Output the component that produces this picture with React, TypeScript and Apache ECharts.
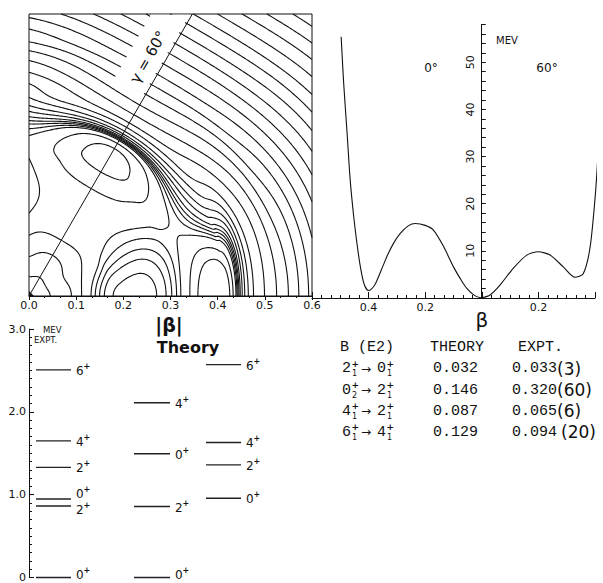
import React, { useEffect, useRef } from "react";
import * as echarts from "echarts";

// ---------------- data ----------------
// 0-degree cut of the potential, beta vs MeV
const CUT0_BETA = [0, 0.025, 0.053, 0.075, 0.1, 0.135, 0.171, 0.2, 0.235, 0.26, 0.288, 0.31, 0.33, 0.35, 0.365, 0.38, 0.4, 0.415, 0.429, 0.441, 0.453, 0.465, 0.476, 0.488, 0.497];
const CUT0_MEV = [0, 0.5, 2.05, 4.0, 6.6, 10.9, 14.4, 15.4, 15.8, 15.3, 13.7, 11.8, 9.5, 6.7, 4.5, 2.6, 1.6, 2.8, 6.6, 11.5, 17.5, 25, 35, 45.5, 55.4];
// 60-degree cut
const CUT60_BETA = [0, 0.029, 0.065, 0.111, 0.159, 0.2, 0.241, 0.288, 0.329, 0.358, 0.382, 0.4, 0.41, 0.416, 0.421];
const CUT60_MEV = [0, 0.64, 2.8, 6.3, 9.1, 9.8, 9.1, 6.6, 4.4, 5.1, 10.5, 21, 30, 38, 50];
const CUT90_BETA = [0, 0.041, 0.076, 0.105, 0.129, 0.158, 0.176, 0.23, 0.293, 0.315, 0.341, 0.356, 0.37, 0.393, 0.423, 0.452, 0.476, 0.501, 0.522, 0.541, 0.568];
const CUT90_MEV = [0, 1.5, 5, 6.5, 8, 9.5, 10.5, 11.3, 10.5, 10.0, 10.5, 11.5, 13, 17, 25, 35, 58, 88, 122, 158, 196];
// outer part of the surface (beyond the plotted cuts), estimated from the outer contour arcs
const OUTER0_BETA = [0.525, 0.55, 0.6, 0.65, 0.7, 0.75, 0.8, 0.9];
const OUTER0_MEV = [88, 122, 210, 325, 470, 660, 885, 1450];
const OUTER60_BETA = [0.45, 0.5, 0.55, 0.6, 0.65, 0.7, 0.8, 0.9];
const OUTER60_MEV = [95, 165, 250, 355, 485, 635, 990, 1400];
const OUTER90_BETA = [0.6, 0.65, 0.7, 0.8, 0.9];
const OUTER90_MEV = [255, 360, 480, 780, 1150];
// contour levels (MeV)
const CONTOUR_LEVELS = [1.5, 5.5, 8, 10.5, 11.5, 12.5, 13.5, 14.8, 17, 20, 25, 35, 58, 88, 122, 158, 196, 240, 290, 345, 405, 470, 540, 615, 700, 790, 885, 990];
const GAMMA_LINE_DEG = 60;

// level scheme (MeV) and spins
const EXPT_E = [0, 0.864, 0.948, 1.33, 1.65, 2.506];
const EXPT_J = [0, 2, 0, 2, 4, 6];
const THEO1_E = [0, 0.857, 1.494, 2.11];
const THEO1_J = [0, 2, 0, 4];
const THEO2_E = [0.956, 1.36, 1.63, 2.57];
const THEO2_J = [0, 2, 4, 6];

// B(E2) table
const BE2_FROM = [["2", "1"], ["0", "2"], ["4", "1"], ["6", "1"]];
const BE2_TO = [["0", "1"], ["2", "1"], ["2", "1"], ["4", "1"]];
const BE2_THEORY = [0.032, 0.146, 0.087, 0.129];
const BE2_EXPT = [0.033, 0.32, 0.065, 0.094];
const BE2_ERR = [3, 60, 6, 20];

// ---------------- helpers ----------------
function monotoneInterp(xs: number[], ys: number[]) {
  const n = xs.length;
  const d: number[] = [];
  const m: number[] = new Array(n).fill(0);
  for (let i = 0; i < n - 1; i++) d.push((ys[i + 1] - ys[i]) / (xs[i + 1] - xs[i]));
  m[0] = d[0];
  m[n - 1] = d[n - 2];
  for (let i = 1; i < n - 1; i++) {
    if (d[i - 1] * d[i] <= 0) m[i] = 0;
    else m[i] = (d[i - 1] + d[i]) / 2;
  }
  for (let i = 0; i < n - 1; i++) {
    if (d[i] === 0) { m[i] = 0; m[i + 1] = 0; continue; }
    const a = m[i] / d[i], b = m[i + 1] / d[i];
    const s = a * a + b * b;
    if (s > 9) { const t = 3 / Math.sqrt(s); m[i] = t * a * d[i]; m[i + 1] = t * b * d[i]; }
  }
  return (x: number) => {
    if (x <= xs[0]) return ys[0] + m[0] * (x - xs[0]);
    if (x >= xs[n - 1]) return ys[n - 1] + m[n - 1] * (x - xs[n - 1]);
    let lo = 0, hi = n - 1;
    while (hi - lo > 1) { const mid = (lo + hi) >> 1; if (xs[mid] <= x) lo = mid; else hi = mid; }
    const h = xs[hi] - xs[lo];
    const t = (x - xs[lo]) / h;
    const t2 = t * t, t3 = t2 * t;
    return (2 * t3 - 3 * t2 + 1) * ys[lo] + (t3 - 2 * t2 + t) * h * m[lo] + (-2 * t3 + 3 * t2) * ys[hi] + (t3 - t2) * h * m[hi];
  };
}

function buildContours(): number[][][] {
  const V0 = monotoneInterp([...CUT0_BETA, ...OUTER0_BETA], [...CUT0_MEV, ...OUTER0_MEV]);
  const V60 = monotoneInterp([...CUT60_BETA, ...OUTER60_BETA], [...CUT60_MEV, ...OUTER60_MEV]);
  const V90 = monotoneInterp([...CUT90_BETA, ...OUTER90_BETA], [...CUT90_MEV, ...OUTER90_MEV]);
  const N = 220;
  const h = 0.6 / N;
  const F: Float64Array[] = [];
  for (let j = 0; j <= N; j++) {
    const row = new Float64Array(N + 1);
    for (let i = 0; i <= N; i++) {
      const x = i * h, y = j * h;
      const b = Math.hypot(x, y);
      const u = Math.cos(3 * Math.atan2(y, x));
      const v0 = V0(b), v6 = V60(b), v9 = V90(b);
      // quadratic in cos(3 gamma) through the three profiles
      row[i] = v9 + ((v0 - v6) / 2) * u + ((v0 + v6) / 2 - v9) * u * u;
    }
    F.push(row);
  }
  const out: number[][][] = [];
  for (const L of CONTOUR_LEVELS) {
    const pts = new Map<string, number[]>();
    const segs: string[][] = [];
    const edge = (kind: string, i: number, j: number) => {
      const key = kind + i + "_" + j;
      if (!pts.has(key)) {
        let f1, f2, x1, y1, x2, y2;
        if (kind === "h") { f1 = F[j][i]; f2 = F[j][i + 1]; x1 = i * h; y1 = j * h; x2 = (i + 1) * h; y2 = y1; }
        else { f1 = F[j][i]; f2 = F[j + 1][i]; x1 = i * h; y1 = j * h; x2 = x1; y2 = (j + 1) * h; }
        const t = (L - f1) / (f2 - f1);
        pts.set(key, [x1 + t * (x2 - x1), y1 + t * (y2 - y1)]);
      }
      return key;
    };
    for (let j = 0; j < N; j++) {
      for (let i = 0; i < N; i++) {
        const a = F[j][i], b = F[j][i + 1], c = F[j + 1][i + 1], d = F[j + 1][i];
        const code = (a > L ? 1 : 0) | (b > L ? 2 : 0) | (c > L ? 4 : 0) | (d > L ? 8 : 0);
        if (code === 0 || code === 15) continue;
        const B = () => edge("h", i, j), T = () => edge("h", i, j + 1), Lf = () => edge("v", i, j), R = () => edge("v", i + 1, j);
        const mid = (a + b + c + d) / 4;
        switch (code) {
          case 1: case 14: segs.push([B(), Lf()]); break;
          case 2: case 13: segs.push([B(), R()]); break;
          case 3: case 12: segs.push([Lf(), R()]); break;
          case 4: case 11: segs.push([R(), T()]); break;
          case 6: case 9: segs.push([B(), T()]); break;
          case 7: case 8: segs.push([Lf(), T()]); break;
          case 5:
            if (mid > L) { segs.push([B(), R()]); segs.push([Lf(), T()]); }
            else { segs.push([B(), Lf()]); segs.push([R(), T()]); }
            break;
          case 10:
            if (mid > L) { segs.push([B(), Lf()]); segs.push([R(), T()]); }
            else { segs.push([B(), R()]); segs.push([Lf(), T()]); }
            break;
        }
      }
    }
    const adj = new Map<string, number[]>();
    segs.forEach((s, k) => {
      for (const key of s) { if (!adj.has(key)) adj.set(key, []); adj.get(key)!.push(k); }
    });
    const used = new Uint8Array(segs.length);
    for (let s0 = 0; s0 < segs.length; s0++) {
      if (used[s0]) continue;
      used[s0] = 1;
      const chain = [segs[s0][0], segs[s0][1]];
      for (const dir of [1, -1]) {
        let cur = dir === 1 ? segs[s0][1] : segs[s0][0];
        while (true) {
          const nxt = (adj.get(cur) || []).find((k) => !used[k]);
          if (nxt === undefined) break;
          used[nxt] = 1;
          const [p, q] = segs[nxt];
          cur = p === cur ? q : p;
          if (dir === 1) chain.push(cur); else chain.unshift(cur);
        }
      }
      out.push(chain.map((k) => pts.get(k)!));
    }
  }
  return out;
}

// ---------------- layout ----------------
const W = 603, H = 583;
const C_LEFT = 29, C_TOP = 14, C_SIZE = 283, C_BOTTOM = 296;
const P_LEFT = 312, P_TOP = 24.5, P_W = 283, P_H = 273.5;
const P_YAXIS_SHIFT = 169.7;
const LV_LEFT = 29, LV_TOP = 329, LV_H = 251, LV_W = 230;
const COLUMN_X = [[7, 42], [105, 141], [177, 212]];
const FONT = "DejaVu Sans";
const MONO = "Liberation Mono";

export default function App() {
  const ref = useRef<HTMLDivElement>(null);
  useEffect(() => {
    if (!ref.current) return;
    const chart = echarts.init(ref.current, null, { renderer: "svg" });
    const contours = buildContours();

    const gRad = (GAMMA_LINE_DEG * Math.PI) / 180;
    const gammaEnd = [0.6 / Math.tan(gRad), 0.6];

    // label gap geometry (px)
    const s = C_SIZE / 0.6;
    const dx = Math.cos(gRad), dy = -Math.sin(gRad);
    const nx = -Math.sin(gRad), ny = -Math.cos(gRad);
    const along = (b: number, off: number) => [C_LEFT + s * b * dx + off * nx, C_BOTTOM + s * b * dy + off * ny];
    const atTop = (off: number) => {
      const y0 = C_BOTTOM + off * ny;
      const t = (y0 - (C_TOP + 0.7)) / -dy;
      return [C_LEFT + off * nx + t * dx, C_TOP + 0.7];
    };
    const gapPoly = [along(0.492, 1.6), atTop(1.6), atTop(35), along(0.492, 35)];
    const labelPos = along(0.565, 16);

    const levelData: number[][] = [];
    const cols = [[EXPT_E, EXPT_J], [THEO1_E, THEO1_J], [THEO2_E, THEO2_J]];
    cols.forEach(([es, js], c) => es.forEach((e, k) => levelData.push([c, e, js[k], k])));
    // label nudges for crowded / edge labels (px)
    const nudgeFor = (c: number, e: number, k: number) => {
      if (e === 0) return -4;
      if (c === 0 && k === 2) return -6;
      if (c === 0 && k === 1) return 3;
      return 0;
    };

    const txt = (x: number, y: number, text: string, size: number, extra: any = {}) => ({
      type: "text", x, y, z: 20,
      style: { text, fontSize: size, fontFamily: FONT, fill: "#111", align: "left", verticalAlign: "middle", ...extra },
    });

    const graphic: any[] = [
      { type: "polygon", z: 10, shape: { points: gapPoly }, style: { fill: "#fff", stroke: null } },
      {
        type: "text", x: labelPos[0], y: labelPos[1], rotation: gRad, z: 20,
        style: { text: "γ = 60°", fontSize: 15, fontFamily: FONT, fill: "#111", align: "center", verticalAlign: "middle" },
      },
      { type: "polygon", z: 20, shape: { points: [[C_LEFT, C_BOTTOM], [C_LEFT + 5, C_BOTTOM], [C_LEFT, C_BOTTOM - 5]] }, style: { fill: "#111" } },
      txt(496, 40, "MEV", 10),
      txt(431, 68, "0°", 12, { align: "center" }),
      txt(547, 68, "60°", 12, { align: "center" }),
      txt(169, 325, "|β|", 19, { align: "center", fontWeight: "bold" }),
      txt(188, 347, "Theory", 16, { align: "center", fontWeight: "bold" }),
      txt(43, 329.5, "MEV", 8.5),
      txt(34, 339.5, "EXPT.", 8.5),
      txt(340, 347, "B (E2)", 15, { fontFamily: MONO }),
      txt(430, 347, "THEORY", 15, { fontFamily: MONO }),
      txt(518, 347, "EXPT.", 15, { fontFamily: MONO }),
    ];
    const rowsY = [368.5, 390, 411, 432];
    BE2_FROM.forEach((fr, r) => {
      const y = rowsY[r];
      const to = BE2_TO[r];
      graphic.push(txt(342, y, fr[0], 15, { fontFamily: MONO }));
      graphic.push(txt(351.5, y - 5, "+", 9, { fontWeight: "bold" }));
      graphic.push(txt(352, y + 5, fr[1], 8));
      graphic.push(txt(361, y, "→", 12));
      graphic.push(txt(377, y, to[0], 15, { fontFamily: MONO }));
      graphic.push(txt(386.5, y - 5, "+", 9, { fontWeight: "bold" }));
      graphic.push(txt(387, y + 5, to[1], 8));
      graphic.push(txt(433, y, BE2_THEORY[r].toFixed(3), 15, { fontFamily: MONO }));
      graphic.push(
        txt(512, y, `{v|${BE2_EXPT[r].toFixed(3)}}{e|(${BE2_ERR[r]})}`, 15, {
          rich: {
            v: { fontFamily: MONO, fontSize: 15, fill: "#111" },
            e: { fontFamily: FONT, fontSize: 17, fill: "#111", padding: [0, 0, 0, r === 3 ? 4 : 0] },
          },
        })
      );
    });

    const axisText = { fontFamily: FONT, fontSize: 11, color: "#111" };
    const blackLine = { lineStyle: { color: "#111", width: 1 } };

    const option: any = {
      animation: false,
      backgroundColor: "#fff",
      grid: [
        { left: C_LEFT, top: C_TOP, width: C_SIZE, height: C_SIZE - 1, show: true, borderColor: "#111", borderWidth: 1, backgroundColor: "transparent" },
        { left: P_LEFT, top: P_TOP, width: P_W, height: P_H, show: false },
        { left: LV_LEFT, top: LV_TOP, width: LV_W, height: LV_H, show: false },
      ],
      xAxis: [
        {
          gridIndex: 0, type: "value", min: 0, max: 0.6, interval: 0.1,
          axisLine: { show: true, ...blackLine }, axisTick: { show: true, length: 4, lineStyle: { color: "#111" } },
          minorTick: { show: true, splitNumber: 3, length: 2, lineStyle: { color: "#111" } },
          splitLine: { show: false },
          axisLabel: { ...axisText, margin: 4, formatter: (v: number) => v.toFixed(1) },
        },
        {
          gridIndex: 1, type: "value", min: -0.6, max: 0.4, interval: 0.2,
          axisLine: { show: true, onZero: false, ...blackLine },
          axisTick: { show: true, inside: true, length: 6, lineStyle: { color: "#111" } },
          minorTick: { show: true, splitNumber: 6, length: 3, lineStyle: { color: "#111" } },
          splitLine: { show: false },
          axisLabel: {
            ...axisText, margin: 4,
            formatter: (v: number) => {
              if (Math.abs(v) < 1e-9) return "{b|β}";
              if (v < -0.55 || v > 0.35) return "";
              return Math.abs(v).toFixed(1);
            },
            rich: { b: { fontFamily: FONT, fontSize: 20, color: "#111", padding: [8, 0, 0, 0] } },
          },
        },
        { gridIndex: 2, type: "value", min: 0, max: LV_W, show: false },
      ],
      yAxis: [
        { gridIndex: 0, type: "value", min: 0, max: 0.6, show: false },
        {
          gridIndex: 1, type: "value", min: 0, max: 58, interval: 2, position: "left", offset: -P_YAXIS_SHIFT,
          axisLine: { show: true, onZero: false, ...blackLine },
          axisTick: { show: true, inside: true, length: 4, lineStyle: { color: "#111" } },
          splitLine: { show: false },
          axisLabel: {
            ...axisText, rotate: 90, margin: 6,
            formatter: (v: number) => (v > 0 && Math.abs(v % 10) < 1e-9 ? String(v) : ""),
          },
        },
        {
          gridIndex: 2, type: "value", min: 0, max: 3, interval: 1,
          axisLine: { show: true, ...blackLine },
          axisTick: { show: true, inside: true, length: 5, lineStyle: { color: "#111" } },
          minorTick: { show: true, splitNumber: 10, length: 3, lineStyle: { color: "#111" } },
          splitLine: { show: false },
          axisLabel: { ...axisText, margin: 3, formatter: (v: number) => (v === 0 ? "0" : v.toFixed(1)) },
        },
      ],
      series: [
        {
          type: "custom", xAxisIndex: 0, yAxisIndex: 0, z: 2,
          data: contours.map((c) => c[0]),
          renderItem: (params: any, api: any) => {
            const pts = contours[params.dataIndex].map((p) => api.coord(p));
            return { type: "polyline", shape: { points: pts }, style: { stroke: "#111", lineWidth: 1.1, fill: null } };
          },
          silent: true,
        },
        {
          type: "line", xAxisIndex: 0, yAxisIndex: 0, z: 3, showSymbol: false,
          data: [[0, 0], gammaEnd], lineStyle: { color: "#111", width: 1 },
        },
        {
          type: "line", xAxisIndex: 1, yAxisIndex: 1, showSymbol: false, smooth: 0.3, clip: false,
          data: CUT0_BETA.map((b, i) => [-b, CUT0_MEV[i]]).reverse(),
          lineStyle: { color: "#111", width: 1.1 },
        },
        {
          type: "line", xAxisIndex: 1, yAxisIndex: 1, showSymbol: false, smooth: 0.25, clip: false,
          data: CUT60_BETA.map((b, i) => [b, CUT60_MEV[i]]),
          lineStyle: { color: "#111", width: 1.1 },
        },
        {
          type: "custom", xAxisIndex: 2, yAxisIndex: 2, z: 3,
          data: levelData.map((d) => [COLUMN_X[d[0]][0], d[1]]),
          renderItem: (params: any, api: any) => {
            const [c, e, j, k] = levelData[params.dataIndex];
            const p0 = api.coord([COLUMN_X[c][0], e]);
            const p1 = api.coord([COLUMN_X[c][1], e]);
            const nudge = nudgeFor(c, e, k);
            return {
              type: "group",
              children: [
                { type: "line", shape: { x1: p0[0], y1: p0[1], x2: p1[0], y2: p1[1] }, style: { stroke: "#222", lineWidth: 1.4 } },
                { type: "text", x: p1[0] + 5, y: p1[1] + 1 + nudge, style: { text: String(j), fontSize: 12, fontFamily: FONT, fill: "#111", verticalAlign: "middle" } },
                { type: "text", x: p1[0] + 12.5, y: p1[1] - 3.5 + nudge, style: { text: "+", fontSize: 8, fontWeight: "bold", fontFamily: FONT, fill: "#111", verticalAlign: "middle" } },
              ],
            };
          },
          silent: true,
        },
      ],
      graphic,
    };
    chart.setOption(option);
    return () => chart.dispose();
  }, []);
  return <div ref={ref} style={{ position: "fixed", left: 0, top: 0, width: W, height: H, background: "#fff" }} />;
}
